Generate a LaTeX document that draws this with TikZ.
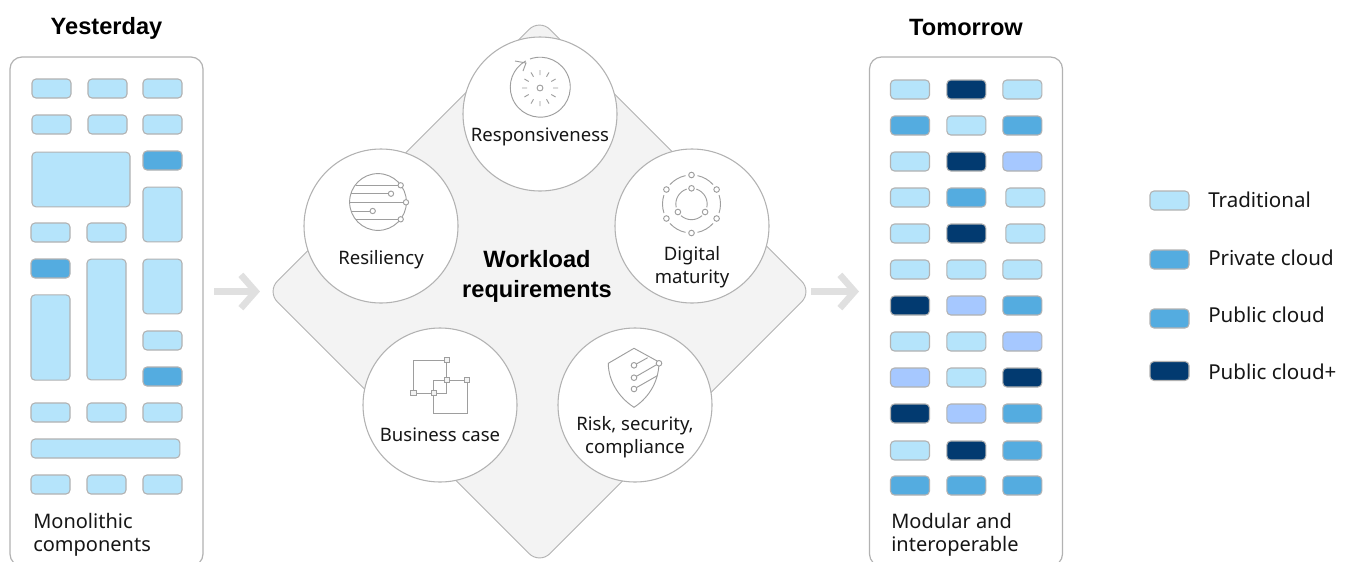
\documentclass[tikz,border=0pt]{standalone}
\usepackage{fontspec}
\setmainfont{Noto Sans}
\newfontfamily\headfont{Liberation Sans}
\usetikzlibrary{positioning}
\usetikzlibrary {arrows.meta}
\definecolor{lightblue}{HTML}{B5E4FB}
\definecolor{midblue}{HTML}{54ACE0}
\definecolor{darkblue}{HTML}{023A70}
\definecolor{paleblue}{HTML}{A6C8FF}
\definecolor{edgegrey}{HTML}{B2B2B2}
\definecolor{icongrey}{HTML}{9E9E9E}
\definecolor{diamondgrey}{HTML}{F3F3F3}
\definecolor{arrowgrey}{HTML}{E0E0E0}
\definecolor{inkgrey}{HTML}{161616}
\tikzset{tradbox/.style={rectangle,rounded corners=3pt,draw=edgegrey,fill=lightblue,line width=0.8pt,
inner sep=0pt,outer sep=0pt,minimum height=14.25pt, minimum width=29.25pt}}
\tikzset{privbox/.style={tradbox,fill=midblue}}
\tikzset{plusbox/.style={tradbox,fill=darkblue}}
\tikzset{palebox/.style={tradbox,fill=paleblue}}
\tikzset{panelbox/.style={rectangle,rounded corners=9pt,draw=edgegrey,fill=white,line width=0.9pt,
inner sep=0pt,outer sep=0pt,minimum height=381.75pt, minimum width=144.75pt}}
\tikzset{reqcircle/.style={circle,draw=edgegrey,fill=white,line width=0.8pt,
inner sep=0pt,outer sep=0pt,minimum size=115.5pt}}
\tikzset{reqtext/.style={text=inkgrey,align=center,font=\fontsize{13.9}{17.25}\selectfont,inner sep=0pt}}
\tikzset{headtext/.style={text=black,align=center,font=\headfont\fontsize{17.7}{22}\selectfont\bfseries,inner sep=0pt}}
\tikzset{paneltext/.style={text=inkgrey,align=left,anchor=west,font=\fontsize{15}{17}\selectfont,inner sep=0pt}}
\tikzset{legendtext/.style={paneltext,font=\fontsize{15.4}{17}\selectfont}}
\tikzset{iconline/.style={draw=icongrey,line width=0.7pt}}
\tikzset{icondot/.style={draw=icongrey,fill=diamondgrey,line width=0.7pt}}
\tikzset{flowarrow/.style={draw=arrowgrey,line width=5pt,-{Straight Barb[length=11pt,width=25pt]}}}

\begin{document}
\begin{tikzpicture}[x=0.75pt,y=-0.75pt]

        \path[use as bounding box,clip] (0,0) rectangle (1353,561);

        \draw[draw=edgegrey,fill=diamondgrey,line width=0.7pt,rounded corners=11pt]
            (539.5,19) -- (812,291.5) -- (539.5,564) -- (267,291.5) -- cycle;

        \node[panelbox] (panelY) at (106.5,311.5) { };
        \node[panelbox] (panelT) at (966,311.5) { };

        \node[headtext] (headY) at (106.5,28.5) {Yesterday};
        \node[headtext] (headT) at (966,27) {Tomorrow};

        \node[tradbox] (yA1) at (51.5,88.5) { };
        \node[tradbox] (yA2) [right=12.75pt of yA1] { };
        \node[tradbox] (yA3) [right=12pt of yA2] { };

        \node[tradbox] (yB1) at (51.5,124.5) { };
        \node[tradbox] (yB2) [right=12.75pt of yB1] { };
        \node[tradbox] (yB3) [right=12pt of yB2] { };

        \node[tradbox,minimum width=73.5pt,minimum height=41pt] (yBig) at (81,179.5) { };
        \node[privbox] (yC3) at (162.5,160.5) { };
        \node[tradbox,minimum height=41pt] (yTallA) at (162.5,214.5) { };

        \node[tradbox] (yD1) at (50.5,232.5) { };
        \node[tradbox] (yD2) [right=12.75pt of yD1] { };

        \node[privbox] (yE1) at (50.5,268.5) { };
        \node[tradbox,minimum height=90.5pt] (yTallB) at (106.5,319.5) { };
        \node[tradbox,minimum height=41pt] (yTallC) at (162.5,286.5) { };
        \node[tradbox,minimum height=64pt] (yTallD) at (50.5,337.5) { };

        \node[tradbox] (yF3) at (162.5,340.5) { };
        \node[privbox] (yG3) at (162.5,376.5) { };

        \node[tradbox] (yH1) at (50.5,412.5) { };
        \node[tradbox] (yH2) [right=12.75pt of yH1] { };
        \node[tradbox] (yH3) [right=12.75pt of yH2] { };

        \node[tradbox,minimum width=111.5pt] (yWide) at (105.5,448.5) { };

        \node[tradbox] (yJ1) at (50.5,484.5) { };
        \node[tradbox] (yJ2) [right=12.75pt of yJ1] { };
        \node[tradbox] (yJ3) [right=12.75pt of yJ2] { };

        \node[paneltext] (textY) at (33,535) {Monolithic\\components};

        \node[tradbox] (tA1) at (910,89.5) { };
        \node[plusbox] (tA2) [right=13pt of tA1] { };
        \node[tradbox] (tA3) [right=12.75pt of tA2] { };

        \node[privbox] (tB1) [below=12.75pt of tA1] { };
        \node[tradbox] (tB2) [right=13pt of tB1] { };
        \node[privbox] (tB3) [right=12.75pt of tB2] { };

        \node[tradbox] (tC1) [below=12.75pt of tB1] { };
        \node[plusbox] (tC2) [right=13pt of tC1] { };
        \node[palebox] (tC3) [right=12.75pt of tC2] { };

        \node[tradbox] (tD1) [below=12.75pt of tC1] { };
        \node[privbox] (tD2) [right=13pt of tD1] { };
        \node[tradbox] (tD3) [right=15pt of tD2] { };

        \node[tradbox] (tE1) [below=12.75pt of tD1] { };
        \node[plusbox] (tE2) [right=13pt of tE1] { };
        \node[tradbox] (tE3) [right=15pt of tE2] { };

        \node[tradbox] (tF1) [below=12.75pt of tE1] { };
        \node[tradbox] (tF2) [right=13pt of tF1] { };
        \node[tradbox] (tF3) [right=12.75pt of tF2] { };

        \node[plusbox] (tG1) [below=12.75pt of tF1] { };
        \node[palebox] (tG2) [right=13pt of tG1] { };
        \node[privbox] (tG3) [right=12.75pt of tG2] { };

        \node[tradbox] (tH1) [below=12.75pt of tG1] { };
        \node[tradbox] (tH2) [right=13pt of tH1] { };
        \node[palebox] (tH3) [right=12.75pt of tH2] { };

        \node[palebox] (tI1) [below=12.75pt of tH1] { };
        \node[tradbox] (tI2) [right=13pt of tI1] { };
        \node[plusbox] (tI3) [right=12.75pt of tI2] { };

        \node[plusbox] (tJ1) [below=12.75pt of tI1] { };
        \node[palebox] (tJ2) [right=13pt of tJ1] { };
        \node[privbox] (tJ3) [right=12.75pt of tJ2] { };

        \node[tradbox] (tK1) [below=13.5pt of tJ1] { };
        \node[plusbox] (tK2) [right=13pt of tK1] { };
        \node[privbox] (tK3) [right=12.75pt of tK2] { };

        \node[privbox] (tL1) [below=12pt of tK1] { };
        \node[privbox] (tL2) [right=13pt of tL1] { };
        \node[privbox] (tL3) [right=12.75pt of tL2] { };

        \node[paneltext] (textT) at (891,535) {Modular and\\interoperable};

        \coordinate (arrowYs) at (214,291.5);
        \coordinate (arrowYe) at (260,291.5);
        \coordinate (arrowTs) at (811,291.5);
        \coordinate (arrowTe) at (859,291.5);
        \draw[flowarrow] (arrowYs) -- (arrowYe);
        \draw[flowarrow] (arrowTs) -- (arrowTe);

        \node[headtext] (workload) at (537,276.5) {Workload\\requirements};

        \node[reqcircle] (circR) at (540,114) { };
        \node[reqcircle] (circS) at (381,226) { };
        \node[reqcircle] (circD) at (692,226) { };
        \node[reqcircle] (circB) at (440,405) { };
        \node[reqcircle] (circK) at (635,405) { };

        \node[reqtext] (textR) at (540,137) {Responsiveness};
        \node[reqtext] (textS) at (381,260) {Resiliency};
        \node[reqtext] (textD) at (692,267) {Digital\\maturity};
        \node[reqtext] (textB) at (440,435) {Business case};
        \node[reqtext] (textK) at (635,437) {Risk, security,\\compliance};

        \coordinate (iconR) at (540,88);
        \draw[iconline] (530,59) arc[start angle=110,end angle=-241,radius=22.5pt];
        \draw[iconline] (515,61) -- (526,63) -- (523,71);
        \draw[iconline] (iconR) circle[radius=2.2pt];
        \draw[iconline] (553,88) -- (558,88) (551.3,81.5) -- (555.6,79) (546.5,76.7) -- (549,72.4);
        \draw[iconline] (540,75) -- (540,70) (533.5,76.7) -- (531,72.4) (528.7,81.5) -- (524.4,79);
        \draw[iconline] (527,88) -- (522,88) (528.7,94.5) -- (524.4,97) (533.5,99.3) -- (531,103.6);
        \draw[iconline] (540,101) -- (540,106) (546.5,99.3) -- (549,103.6) (551.3,94.5) -- (555.6,97);

        \coordinate (iconS) at (378,202);
        \draw[iconline] (iconS) circle[radius=21.3pt];
        \draw[iconline] (355.7,185.3) -- (400.7,185.3) (351,193.7) -- (391,193.7) (349.5,202.3) -- (406,202.3);
        \draw[iconline] (351,211) -- (372.7,211) (355.7,219.3) -- (400.7,219.3);
        \draw[icondot,fill=white] (400.7,185.3) circle[radius=2pt] (391,193.7) circle[radius=2pt] (406,202.3) circle[radius=2pt];
        \draw[icondot,fill=white] (372.7,211) circle[radius=2pt] (400.7,219.3) circle[radius=2pt];

        \coordinate (iconD) at (691.5,204);
        \draw[iconline] ([shift={(78:21.75pt)}]iconD) arc[start angle=78,end angle=42,radius=21.75pt];
        \draw[iconline] ([shift={(18:21.75pt)}]iconD) arc[start angle=18,end angle=-18,radius=21.75pt];
        \draw[iconline] ([shift={(-42:21.75pt)}]iconD) arc[start angle=-42,end angle=-78,radius=21.75pt];
        \draw[iconline] ([shift={(-102:21.75pt)}]iconD) arc[start angle=-102,end angle=-138,radius=21.75pt];
        \draw[iconline] ([shift={(-162:21.75pt)}]iconD) arc[start angle=-162,end angle=-198,radius=21.75pt];
        \draw[iconline] ([shift={(-222:21.75pt)}]iconD) arc[start angle=-222,end angle=-258,radius=21.75pt];
        \draw[iconline] ([shift={(72:11.75pt)}]iconD) arc[start angle=72,end angle=-12,radius=11.75pt];
        \draw[iconline] ([shift={(-48:11.75pt)}]iconD) arc[start angle=-48,end angle=-132,radius=11.75pt];
        \draw[iconline] ([shift={(-168:11.75pt)}]iconD) arc[start angle=-168,end angle=-252,radius=11.75pt];
        \draw[icondot,fill=white] (691.5,175) circle[radius=2.1pt] (716.6,189.5) circle[radius=2.1pt] (716.6,218.5) circle[radius=2.1pt];
        \draw[icondot,fill=white] (691.5,233) circle[radius=2.1pt] (666.4,218.5) circle[radius=2.1pt] (666.4,189.5) circle[radius=2.1pt];
        \draw[icondot,fill=white] (691.5,188.3) circle[radius=2.1pt] (705.1,212) circle[radius=2.1pt] (677.9,212) circle[radius=2.1pt];

        \draw[iconline] (413.3,360) rectangle (446.7,393);
        \draw[iconline] (433.7,380) rectangle (467,413.3);
        \draw[icondot] (444,357.3) rectangle (449.4,362.7) (410.6,390.3) rectangle (416,395.7);
        \draw[icondot] (431,390.3) rectangle (436.4,395.7) (444,377.3) rectangle (449.4,382.7);
        \draw[icondot] (464.3,377.3) rectangle (469.7,382.7);

        \draw[iconline] (634,348.3) -- (659,362) .. controls (659,380) and (650,397) .. (634,407.3)
            .. controls (618,397) and (608.3,380) .. (608.3,363.3) -- cycle;
        \draw[iconline] (634,365.3) -- (647.7,357.7) (634,377.7) -- (659,363.3) (634,389) -- (657.3,375.7);
        \draw[icondot,fill=white] (634,365.3) circle[radius=2.1pt] (634,377.7) circle[radius=2.1pt] (634,389) circle[radius=2.1pt];
        \draw[icondot,fill=white] (659,363.3) circle[radius=2.1pt];

        \node[tradbox] (legendA) at (1169.5,200.5) { };
        \node[privbox] (legendB) at (1169.5,259.5) { };
        \node[privbox] (legendC) at (1169.5,318.5) { };
        \node[plusbox] (legendD) at (1169.5,371) { };

        \node[legendtext] (legendAt) at (1208,200) {Traditional};
        \node[legendtext] (legendBt) at (1208,258) {Private cloud};
        \node[legendtext] (legendCt) at (1208,315) {Public cloud};
        \node[legendtext] (legendDt) at (1208,372) {Public cloud+};

    \end{tikzpicture}
\end{document}
